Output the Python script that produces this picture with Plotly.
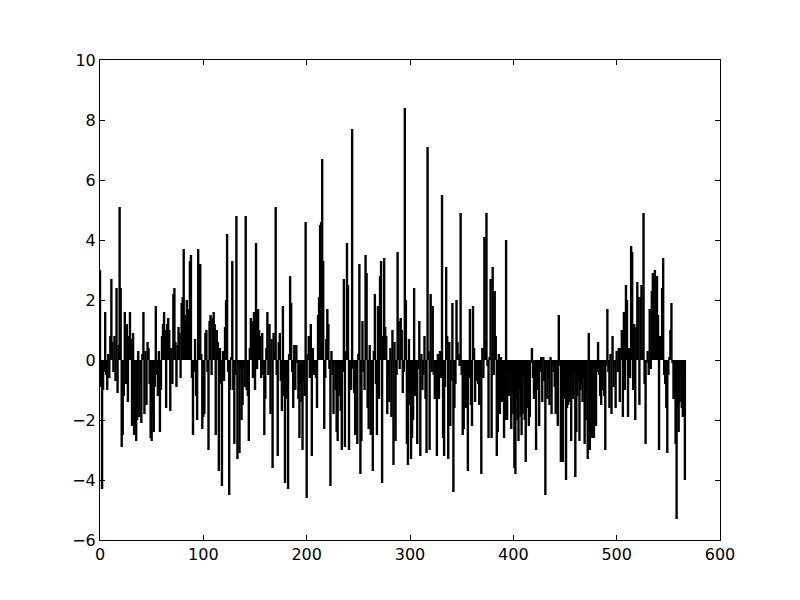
"""
Vertical-line plot of a signed series (matplotlib classic look) in Plotly.
"""
import plotly.graph_objects as go

# values per sample index (index 0 .. 566)
values_000 = [3.0, -0.9, -4.3, -1.0, -0.4, 1.6, -0.5, -1.0, 0.2, -0.6,
              0.8, 2.7, 0.6, -0.4, 0.8, -0.7, 2.4, -1.1, 0.5, 5.1,
              2.4, -2.9, -2.5, -1.2, 1.6, -0.8, 1.2, -1.4, 0.8, 1.6,
              0.7, -2.2, 0.9, -2.5, -1.2, -2.7, -2.0, 0.3, -1.9, -0.8,
              -2.1, 0.2, 1.6, -1.8, 0.3, -1.5, 0.6, 0.4, -0.8, -2.6]
values_050 = [-2.7, -1.8, -2.4, -0.9, 1.8, -0.5, -1.2, 0.3, -2.4, -1.0,
              0.8, 1.2, 1.6, 1.0, -1.6, 1.2, 1.4, 1.0, -1.7, 0.4,
              -0.8, 2.2, 2.4, 0.6, -0.9, 0.5, 1.1, 0.9, -0.6, 1.9,
              2.1, 3.7, 1.5, 1.2, 2.0, 1.7, 0.6, 3.3, 3.5, -0.6,
              -2.5, -0.4, 0.7, -1.2, -2.0, 3.7, 0.4, 3.2, 0.2, -2.3]
values_100 = [-1.9, -1.8, 0.9, 1.0, -0.4, -3.0, 1.3, 1.5, -0.5, 1.4,
              1.6, 1.2, -2.5, 1.0, 0.6, -3.7, 0.4, -0.8, -4.2, 0.3,
              -0.7, 1.1, 2.0, 4.2, -0.4, -4.5, -1.0, 0.1, 3.3, -1.0,
              -2.8, -0.5, 4.8, -3.3, -0.1, -3.1, -0.3, -2.0, -1.5, -0.3,
              -0.9, 4.8, -1.0, -1.2, -2.7, 0.4, 1.4, 1.3, -0.6, 1.6]
values_150 = [-1.0, 3.9, -0.3, 1.7, 1.0, 0.8, -0.6, 0.9, -0.5, -2.5,
              -1.3, 0.4, 1.6, -0.5, 1.2, -1.8, 0.7, -3.6, 0.9, 0.3,
              5.1, -0.5, -3.2, 0.6, 0.9, -0.7, -1.7, 1.8, -1.2, -4.1,
              -1.3, -0.5, -4.3, 0.2, 2.8, 1.9, -0.4, -1.6, 0.5, -1.0,
              0.5, -0.1, -1.3, -2.6, -0.8, -1.4, -3.0, -0.7, -1.2, 4.6]
values_200 = [-4.6, 0.2, 0.8, -0.6, 1.2, -3.2, 0.4, -0.5, -0.3, -0.6,
              -1.6, 1.5, 2.1, 4.5, 4.6, 6.7, 3.3, -2.3, -0.6, 0.7,
              1.7, 1.2, -0.3, -4.2, 0.3, -0.5, -1.8, -0.1, -1.0, -2.4,
              -2.7, -0.6, -1.2, -1.7, -3.0, -0.4, 2.7, -2.9, 0.3, 3.9,
              2.5, -3.0, -0.2, -1.0, 7.7, -0.3, -1.1, -2.5, -0.8, -2.8]
values_250 = [0.2, 3.2, -3.8, -2.7, 1.3, -0.4, -1.0, 3.5, 2.9, -1.6,
              -2.3, 0.5, -2.5, -1.0, -3.7, 0.3, 2.2, -0.8, -2.5, 1.8,
              -1.3, 2.8, 3.3, -4.1, 0.8, 3.4, 1.1, 0.8, -1.8, -0.6,
              -1.4, 0.4, -1.9, 1.0, -3.5, 0.6, -2.7, -0.5, 3.6, 1.3,
              -0.3, 1.4, 1.0, -1.1, -0.4, 8.4, 2.0, -2.8, -3.5, 0.7]
values_300 = [-1.5, -3.3, -2.6, -2.0, 2.4, -1.2, -0.7, -2.8, -0.3, 1.3,
              -3.2, 0.2, -1.0, -0.5, 0.8, -1.3, -3.1, 7.1, 0.3, -3.0,
              2.2, -0.4, 1.8, -0.5, -1.3, -0.8, -3.2, 0.2, -1.3, 0.3,
              -0.6, 5.5, -2.6, -3.2, -0.9, 3.1, 0.8, -3.3, 0.6, -2.2,
              -0.7, 1.9, -4.4, -1.6, -0.8, 2.0, 0.6, 0.2, -0.2, 4.9]
values_350 = [-0.5, -2.5, -2.3, -1.3, -1.6, -0.4, -3.7, -0.6, 1.7, -1.5,
              -2.2, 1.8, 0.4, -1.4, -0.7, -0.3, -0.8, -1.5, -0.9, -3.8,
              0.4, -0.6, 4.1, 0.6, 4.9, -0.2, -2.6, 0.1, 2.7, -2.6,
              3.1, -0.5, 2.3, 0.8, -3.2, -2.4, 0.2, -1.8, 0.1, -1.4,
              -0.5, -2.6, -2.0, 4.0, -2.0, -0.7, -1.2, -0.4, -2.3, -1.1]
values_400 = [-1.8, -3.6, -3.8, -1.3, -2.0, -2.7, -1.0, -1.9, -2.5, -1.8,
              -0.6, -2.0, -3.4, -1.6, -0.8, -2.2, -1.9, -0.1, 0.4, -0.6,
              -1.3, -0.5, -3.0, -0.8, -1.0, -2.2, -0.4, 0.1, -1.4, 0.1,
              -0.7, -4.5, -0.3, -1.3, -0.6, -1.5, 0.1, -1.8, -0.2, -0.4,
              -0.9, -1.8, -0.6, -2.2, 1.5, -0.2, -3.4, -1.0, -3.4, -1.3]
values_450 = [-0.5, -4.0, -1.6, -1.5, -1.4, -0.5, -2.7, -0.6, -1.3, -0.4,
              -3.9, -2.4, -1.2, -0.7, -2.7, -1.0, -0.8, -1.4, -0.6, -2.8,
              -2.0, -1.1, -3.3, 0.9, -3.0, -1.8, -2.6, -1.3, -2.6, -0.3,
              -2.2, -0.4, 0.6, -0.5, -1.2, -1.5, -1.0, -0.3, -1.2, -3.0,
              -0.2, 1.7, -0.4, -1.6, 0.2, -1.8, 0.8, -0.9, -0.2, -1.6]
values_500 = [0.3, -0.4, 0.4, -1.4, 0.4, 1.0, -1.9, 1.6, -1.0, 2.5,
              2.0, -1.9, 0.4, -0.6, 3.8, 3.6, -1.0, 1.2, -2.0, 1.1,
              2.6, 2.1, -1.5, 2.1, 2.5, 0.4, 4.9, -0.8, -2.8, -0.1,
              0.3, -0.5, 1.7, -0.3, 2.3, 2.9, 1.4, 3.0, 2.7, 2.8,
              1.5, -3.0, 0.8, 0.3, 2.4, 3.4, -0.5, -0.8, -1.6, -3.1]
values_550 = [-0.5, 0.1, 1.0, 1.9, -0.1, -1.3, -1.3, -2.8, -5.3, -1.6,
              -2.4, -1.4, -0.5, -1.6, -1.9, -0.6, -4.0]

values = (values_000 + values_050 + values_100 + values_150 + values_200
          + values_250 + values_300 + values_350 + values_400 + values_450
          + values_500 + values_550)

x_ticks = [0, 100, 200, 300, 400, 500, 600]
y_ticks = [-6, -4, -2, 0, 2, 4, 6, 8, 10]

# each sample is a vertical segment from 0 to its value
seg_x, seg_y = [], []
for i, v in enumerate(values):
    seg_x += [i, i, None]
    seg_y += [0, v, None]

fig = go.Figure(
    go.Scatter(
        x=seg_x,
        y=seg_y,
        mode="lines",
        line=dict(color="black", width=2.4),
        connectgaps=False,
        hoverinfo="skip",
    )
)

axis_style = dict(
    showline=True,
    linecolor="black",
    linewidth=1,
    mirror="ticks",
    ticks="inside",
    ticklen=5,
    tickcolor="black",
    showgrid=False,
    zeroline=False,
    tickfont=dict(family="DejaVu Sans", size=16, color="black"),
)

fig.update_xaxes(range=[0, 600], tickvals=x_ticks, **axis_style)
fig.update_yaxes(range=[-6, 10], tickvals=y_ticks, **axis_style)

# page body adds an 8px offset, so the figure is 8px smaller on each side
fig.update_layout(
    width=792,
    height=592,
    margin=dict(l=92, r=80, t=52, b=60),
    paper_bgcolor="white",
    plot_bgcolor="white",
    showlegend=False,
)

fig.write_html("out.html")
